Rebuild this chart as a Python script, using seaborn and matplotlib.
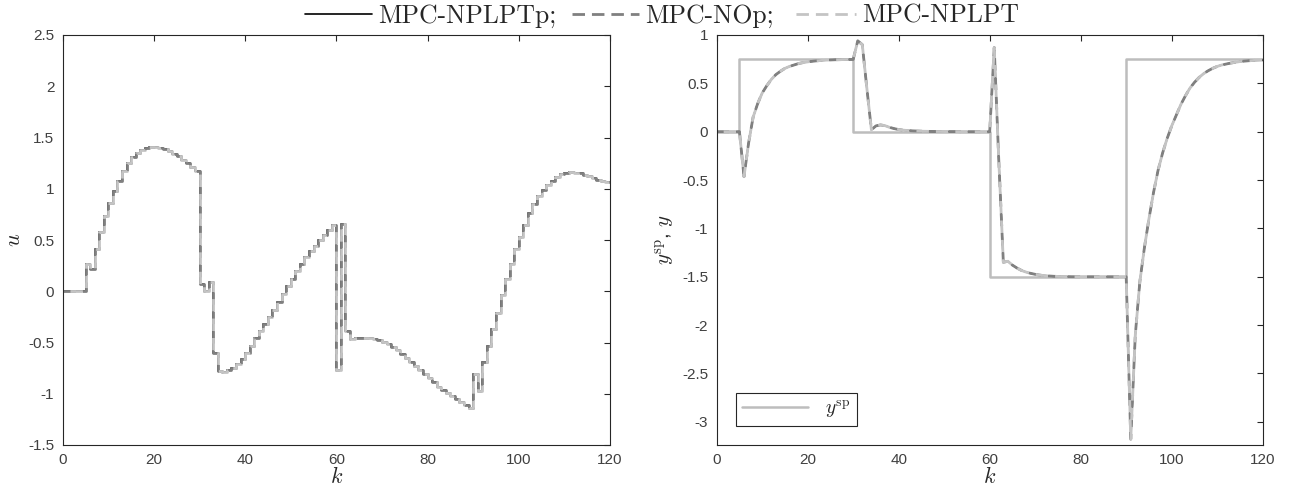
import numpy as np
import matplotlib
matplotlib.use("Agg")
import matplotlib.pyplot as plt
from matplotlib.ticker import FormatStrFormatter, MultipleLocator
import seaborn as sns

# ---------------- data ----------------
series_labels = ["MPC-NPLPTp;", "MPC-NOp;", "MPC-NPLPT"]

u_nplptp = [0, 0, 0, 0, 0,
            0.27, 0.22, 0.41, 0.58, 0.73,
            0.86, 0.98, 1.08, 1.17, 1.25,
            1.31, 1.35, 1.38, 1.40, 1.41,
            1.41, 1.40, 1.385, 1.365, 1.34,
            1.315, 1.28, 1.25, 1.21, 1.17,
            0.07, 0.0, 0.09, -0.60, -0.78,
            -0.79, -0.77, -0.745, -0.71, -0.66,
            -0.60, -0.53, -0.46, -0.39, -0.32,
            -0.25, -0.18, -0.10, -0.03, 0.05,
            0.12, 0.20, 0.27, 0.33, 0.39,
            0.44, 0.50, 0.55, 0.60, 0.65,
            -0.77, 0.66, -0.39, -0.47, -0.46,
            -0.455, -0.455, -0.46, -0.47, -0.48,
            -0.495, -0.515, -0.54, -0.575, -0.61,
            -0.65, -0.69, -0.73, -0.77, -0.81,
            -0.85, -0.89, -0.93, -0.96, -0.99,
            -1.02, -1.05, -1.08, -1.11, -1.14,
            -0.81, -0.97, -0.69, -0.53, -0.37,
            -0.21, -0.04, 0.12, 0.27, 0.41,
            0.53, 0.65, 0.76, 0.85, 0.93,
            0.99, 1.04, 1.08, 1.115, 1.14,
            1.155, 1.16, 1.155, 1.15, 1.135,
            1.12, 1.105, 1.09, 1.08, 1.07,
            1.06]
u_nop = list(u_nplptp)
u_nplpt = list(u_nplptp)

y_nplptp = [0, 0, 0, 0, 0,
            0, -0.465, -0.12, 0.15, 0.29,
            0.40, 0.475, 0.54, 0.59, 0.625,
            0.655, 0.675, 0.69, 0.705, 0.715,
            0.722, 0.728, 0.733, 0.737, 0.74,
            0.742, 0.744, 0.745, 0.746, 0.747,
            0.748, 0.94, 0.90, 0.45, 0.02,
            0.06, 0.07, 0.062, 0.045, 0.032,
            0.022, 0.016, 0.012, 0.009, 0.007,
            0.005, 0.004, 0.003, 0.002, 0.002,
            0.001, 0.001, 0.001, 0.001, 0.0,
            0.0, 0.0, 0.0, 0.0, 0.0,
            0.0, 0.87, -0.30, -1.35, -1.34,
            -1.38, -1.41, -1.435, -1.452, -1.465,
            -1.475, -1.483, -1.488, -1.492, -1.495,
            -1.497, -1.498, -1.499, -1.5, -1.5,
            -1.5, -1.5, -1.5, -1.5, -1.5,
            -1.5, -1.5, -1.5, -1.5, -1.5,
            -1.5, -3.18, -2.1, -1.55, -1.2,
            -0.9, -0.63, -0.40, -0.22, -0.07,
            0.06, 0.17, 0.28, 0.37, 0.45,
            0.51, 0.56, 0.60, 0.63, 0.655,
            0.675, 0.69, 0.70, 0.71, 0.718,
            0.725, 0.73, 0.734, 0.737, 0.739,
            0.74]
y_nop = list(y_nplptp)
y_nplpt = list(y_nplptp)

ysp_k = [0, 5, 30, 60, 90, 120]
ysp_v = [0, 0.75, 0, -1.5, 0.75, 0.75]

# ---------------- style ----------------
sns.set_style("white")
plt.rcParams.update({
    "font.family": ["Liberation Sans", "DejaVu Sans"],
    "mathtext.fontset": "cm",
    "axes.unicode_minus": False,
})
AX_COL = "#262626"
TICK_COL = "#404040"

W, H = 1289, 495
fig = plt.figure(figsize=(W / 100, H / 100), dpi=100)
ax1 = fig.add_axes([62.7 / W, 50 / H, 547.3 / W, 410 / H])
ax2 = fig.add_axes([716.7 / W, 50 / H, 546 / W, 410 / H])

styles = [
    dict(color="black", linewidth=1.2, linestyle="-"),
    dict(color="#808080", linewidth=2.0, linestyle=(0, (4.5, 2.5))),
    dict(color="#c4c4c4", linewidth=2.0, linestyle=(4.5, (4.5, 2.5))),
]

k_u = np.arange(len(u_nplptp))
for vals, st in zip([u_nplptp, u_nop, u_nplpt], styles):
    sns.lineplot(x=k_u, y=vals, ax=ax1, drawstyle="steps-post",
                 estimator=None, legend=False, **st)

k_y = np.arange(len(y_nplptp))
sns.lineplot(x=ysp_k, y=ysp_v, ax=ax2, drawstyle="steps-post",
             estimator=None, color="#bdbdbd", linewidth=1.8,
             label=r"$y^{\rm sp}$")
for vals, st in zip([y_nplptp, y_nop, y_nplpt], styles):
    sns.lineplot(x=k_y, y=vals, ax=ax2, estimator=None, legend=False, **st)

# axes formatting
for ax in (ax1, ax2):
    ax.set_xlim(0, 120)
    ax.xaxis.set_major_locator(MultipleLocator(20))
    ax.yaxis.set_major_locator(MultipleLocator(0.5))
    ax.yaxis.set_major_formatter(FormatStrFormatter("%g"))
    ax.tick_params(direction="in", length=4, width=0.8, top=True, right=True,
                   color=AX_COL, labelcolor=TICK_COL, labelsize=11, pad=6)
    for sp in ax.spines.values():
        sp.set_color(AX_COL)
        sp.set_linewidth(0.8)
    ax.set_xlabel(r"$k$", fontsize=16, labelpad=0, color=AX_COL)

ax1.set_ylim(-1.5, 2.5)
ax2.set_ylim(-3.24, 1)
ax1.set_ylabel(r"$u$", fontsize=16, labelpad=2, color=AX_COL)
ax2.set_ylabel(r"$y^{\rm sp}$, $y$", fontsize=15, labelpad=4, color=AX_COL)

# legends
leg2 = ax2.legend(loc="lower left", bbox_to_anchor=(19.3 / 546, 19 / 410),
                  borderaxespad=0, fancybox=False, framealpha=1,
                  edgecolor=AX_COL, fontsize=14, handlelength=3.4,
                  handletextpad=0.9, borderpad=0.3)
leg2.get_frame().set_linewidth(0.8)

handles = ax1.get_lines()[:3]
fig.legend(handles=handles, labels=series_labels, loc="center",
           bbox_to_anchor=(662 / W, 1 - 16 / H), ncol=3, frameon=False,
           prop={"family": "cmr10", "size": 18.5}, handlelength=2.6,
           handletextpad=0.25, columnspacing=0.6, borderpad=0.1)

fig.savefig("out.png", dpi=100)
